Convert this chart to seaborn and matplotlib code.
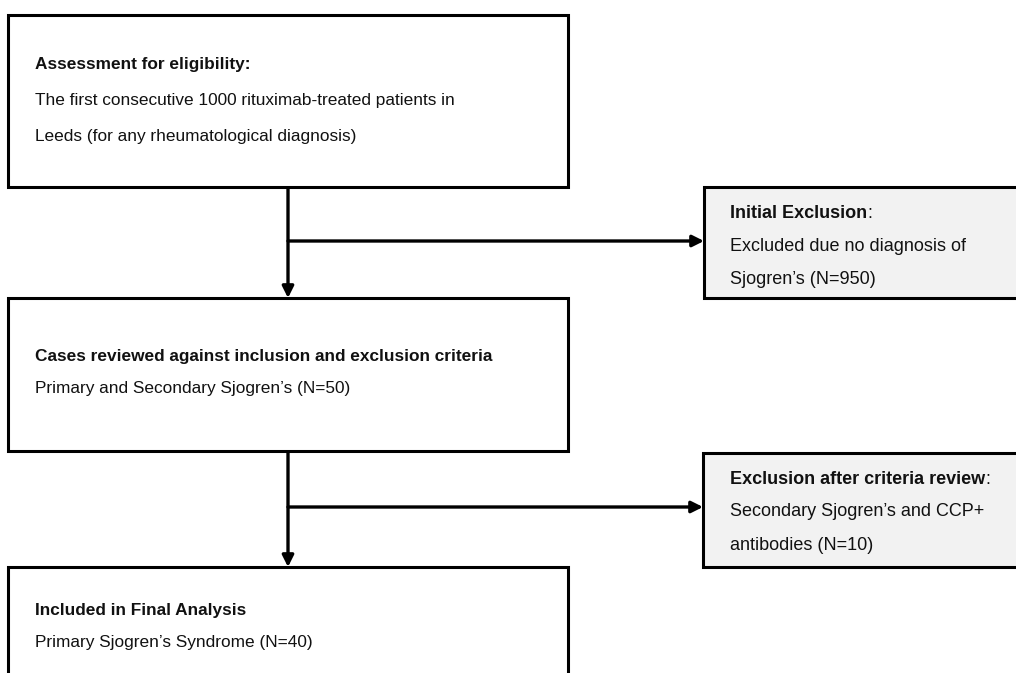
import matplotlib.pyplot as plt
import seaborn as sns
from matplotlib.patches import Rectangle

sns.set_theme(style='white')
plt.rcParams['font.family'] = ['Liberation Sans', 'DejaVu Sans']

# box texts: (bold title, title suffix, body lines)
main_titles = ['Assessment for eligibility:',
               'Cases reviewed against inclusion and exclusion criteria',
               'Included in Final Analysis']
main_suffix = ['', '', '']
main_lines = [['The first consecutive 1000 rituximab-treated patients in',
               'Leeds (for any rheumatological diagnosis)'],
              ['Primary and Secondary Sjogren\u2019s (N=50)'],
              ['Primary Sjogren\u2019s Syndrome (N=40)']]

side_titles = ['Initial Exclusion', 'Exclusion after criteria review']
side_suffix = [':', ':']
side_lines = [['Excluded due no diagnosis of', 'Sjogren\u2019s (N=950)'],
              ['Secondary Sjogren\u2019s and CCP+', 'antibodies (N=10)']]

# layout (pixels, y down)
main_boxes = [(8, 15, 560, 172), (8, 298, 560, 153), (8, 567, 560, 140)]
main_text_y = [64, 357, 611]
main_gap = [36, 32, 32]
side_boxes = [(704, 187, 340, 111), (703, 453, 340, 114)]
side_text_y = [214, 479]
side_gap = [32.5, 33]
branch_y = [241, 507]
fs_main = 12.45
fs_side = 13.0

fig, ax = plt.subplots(figsize=(10.16, 6.73), dpi=100)
fig.subplots_adjust(left=0, right=1, bottom=0, top=1)
ax.set_xlim(0, 1016)
ax.set_ylim(673, 0)
ax.axis('off')


def draw_box(box, ty, gap, title, suffix, lines, face, tx, fs):
    x, y, w, h = box
    ax.add_patch(Rectangle((x, y), w, h, facecolor=face, edgecolor='black', lw=2.2, zorder=2))
    t = ax.text(tx, ty, title, fontsize=fs, fontweight='bold', va='center', ha='left', color='#111111', zorder=3)
    if suffix:
        ax.annotate(suffix, xy=(1, 0), xycoords=t, va='bottom', ha='left', fontsize=fs, color='#111111', zorder=3)
    for i, line in enumerate(lines):
        ax.text(tx, ty + (i + 1) * gap, line, fontsize=fs, va='center', ha='left', color='#111111', zorder=3)


for b, ty, g, ti, su, li in zip(main_boxes, main_text_y, main_gap, main_titles, main_suffix, main_lines):
    draw_box(b, ty, g, ti, su, li, 'white', 35, fs_main)
for b, ty, g, ti, su, li in zip(side_boxes, side_text_y, side_gap, side_titles, side_suffix, side_lines):
    draw_box(b, ty, g, ti, su, li, '#f2f2f2', 730, fs_side)

cx = 288
aprops = dict(arrowstyle='-|>', color='black', lw=2.4, mutation_scale=17, shrinkA=0, shrinkB=0)
for i in range(2):
    top = main_boxes[i][1] + main_boxes[i][3]
    nxt = main_boxes[i + 1][1]
    ax.annotate('', xy=(cx, nxt), xytext=(cx, top), arrowprops=aprops, zorder=1)
    ax.annotate('', xy=(side_boxes[i][0], branch_y[i]), xytext=(cx, branch_y[i]), arrowprops=aprops, zorder=1)

plt.savefig('out.png', dpi=100)
